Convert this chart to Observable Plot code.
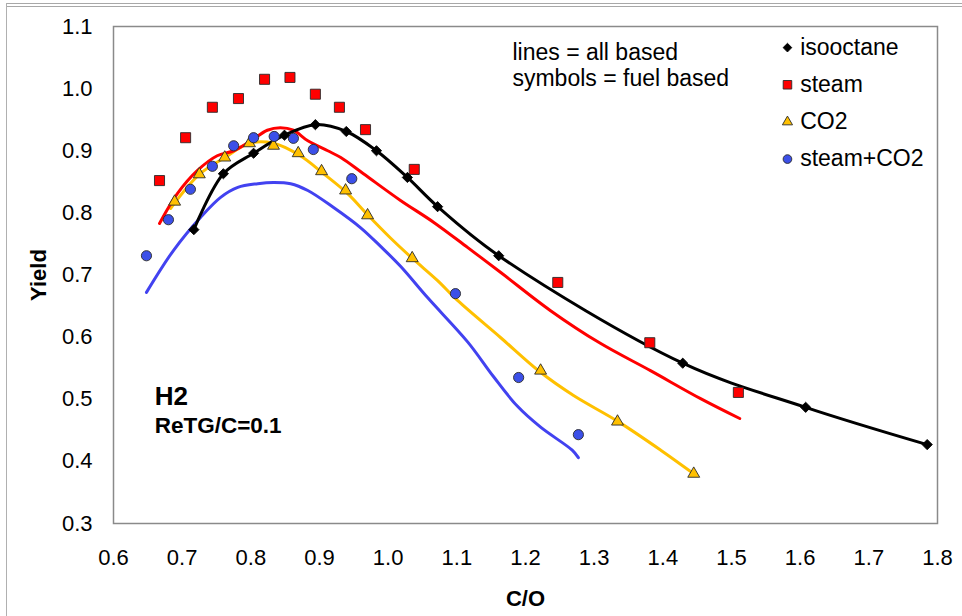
<!DOCTYPE html>
<html><head><meta charset="utf-8">
<script src="https://cdn.jsdelivr.net/npm/d3@7"></script>
<script src="https://cdn.jsdelivr.net/npm/@observablehq/plot@0.6"></script>
<style>
body{margin:0;background:#fff;}
#wrap{position:relative;width:962px;height:616px;overflow:hidden;background:#fff;}
#wrap .edge-top{position:absolute;left:6px;top:3px;right:0;height:2px;border-top:1px solid #a8a8a8;border-bottom:1px solid #a8a8a8;}
#wrap .edge-left{position:absolute;left:6px;top:3px;bottom:0;border-left:1px solid #b0b0b0;}
#wrap svg{position:absolute;left:0;top:0;}
</style></head><body>
<div id="wrap"><div class="edge-top"></div><div class="edge-left"></div></div>
<script>
// ---- data ----
const seriesNames = ["isooctane", "steam", "CO2", "steam+CO2"];

// symbols (fuel based)
const isoX   = [0.717, 0.760, 0.804, 0.849, 0.894, 0.939, 0.983, 1.028, 1.072, 1.161, 1.429, 1.608, 1.785];
const isoY   = [0.773, 0.863, 0.896, 0.925, 0.942, 0.931, 0.900, 0.857, 0.810, 0.731, 0.558, 0.487, 0.427];
const steamX = [0.667, 0.705, 0.744, 0.782, 0.820, 0.857, 0.894, 0.929, 0.967, 1.038, 1.247, 1.381, 1.510];
const steamY = [0.852, 0.921, 0.970, 0.984, 1.015, 1.018, 0.991, 0.970, 0.934, 0.870, 0.688, 0.591, 0.511];
const co2X   = [0.689, 0.725, 0.762, 0.798, 0.833, 0.869, 0.903, 0.938, 0.970, 1.035, 1.222, 1.334, 1.445];
const co2Y   = [0.818, 0.862, 0.889, 0.912, 0.908, 0.896, 0.867, 0.836, 0.796, 0.727, 0.546, 0.464, 0.380];
const mixX   = [0.648, 0.680, 0.712, 0.744, 0.775, 0.804, 0.834, 0.862, 0.891, 0.947, 1.098, 1.190, 1.277];
const mixY   = [0.731, 0.789, 0.838, 0.875, 0.908, 0.921, 0.923, 0.920, 0.902, 0.855, 0.670, 0.535, 0.443];

// lines (all based)
const isoLineX   = isoX;
const isoLineY   = isoY;
const steamLineX = [0.667, 0.693, 0.722, 0.751, 0.775, 0.800, 0.824, 0.843, 0.862, 0.883, 0.912, 0.931, 0.964, 1.018, 1.066, 1.116, 1.164, 1.236, 1.309, 1.382, 1.455, 1.512];
const steamLineY = [0.783, 0.831, 0.868, 0.892, 0.900, 0.916, 0.933, 0.937, 0.933, 0.916, 0.900, 0.889, 0.863, 0.820, 0.785, 0.744, 0.704, 0.643, 0.590, 0.546, 0.501, 0.469];
const co2LineX   = [0.683, 0.725, 0.762, 0.798, 0.833, 0.872, 0.906, 0.941, 0.970, 1.003, 1.035, 1.072, 1.101, 1.164, 1.220, 1.270, 1.335, 1.397, 1.445];
const co2LineY   = [0.807, 0.862, 0.889, 0.912, 0.912, 0.892, 0.863, 0.831, 0.797, 0.760, 0.727, 0.691, 0.659, 0.599, 0.545, 0.506, 0.464, 0.418, 0.380];
const mixLineX   = [0.648, 0.687, 0.727, 0.756, 0.781, 0.810, 0.833, 0.858, 0.883, 0.920, 0.960, 0.989, 1.018, 1.057, 1.116, 1.153, 1.188, 1.222, 1.268, 1.277];
const mixLineY   = [0.672, 0.739, 0.793, 0.825, 0.841, 0.847, 0.849, 0.847, 0.836, 0.809, 0.776, 0.746, 0.714, 0.664, 0.592, 0.537, 0.489, 0.455, 0.418, 0.406];

const xTicks = [0.6, 0.7, 0.8, 0.9, 1.0, 1.1, 1.2, 1.3, 1.4, 1.5, 1.6, 1.7, 1.8];
const yTicks = [0.3, 0.4, 0.5, 0.6, 0.7, 0.8, 0.9, 1.0, 1.1];

const noteLines = ["lines = all based", "symbols = fuel based"];
const caseLabel = "H2";
const caseSub = "ReTG/C=0.1";

// ---- build tables ----
const rows = (xs, ys) => xs.map((x, i) => ({x, y: ys[i]}));
const style = {
  "isooctane": {symbol: "diamond2",  r: 4.6, fill: "#000000", stroke: "#000000", line: "#000000"},
  "steam":     {symbol: "square2",   r: 6.4, fill: "#ff0000", stroke: "#2a2a2a", line: "#ff0000"},
  "CO2":       {symbol: "triangle2", r: 5.7, fill: "#ffc000", stroke: "#2a2a2a", line: "#ffc000"},
  "steam+CO2": {symbol: "circle",    r: 5.1, fill: "#3c50e8", stroke: "#2a2a2a", line: "#4242f0"}
};
const points = {
  "isooctane": rows(isoX, isoY), "steam": rows(steamX, steamY),
  "CO2": rows(co2X, co2Y), "steam+CO2": rows(mixX, mixY)
};
const lines = {
  "isooctane": rows(isoLineX, isoLineY), "steam": rows(steamLineX, steamLineY),
  "CO2": rows(co2LineX, co2LineY), "steam+CO2": rows(mixLineX, mixLineY)
};

const lineMarks = ["CO2", "steam+CO2", "steam", "isooctane"].map(s =>
  Plot.line(lines[s], {x: "x", y: "y", stroke: style[s].line, strokeWidth: 3, curve: "catmull-rom"}));
const dotMarks = ["steam", "CO2", "steam+CO2", "isooctane"].map(s =>
  Plot.dot(points[s], {x: "x", y: "y", symbol: () => style[s].symbol, r: style[s].r,
    fill: style[s].fill, stroke: style[s].stroke, strokeWidth: 0.9}));

// legend (inside plot area, top right)
const legendRows = seriesNames.map((name, i) => ({name, lx: 1.5815, tx: 1.600, y: 1.066 - i * 0.0598}));
const legendDots = legendRows.map(d =>
  Plot.dot([d], {x: "lx", y: "y", symbol: () => style[d.name].symbol, r: style[d.name].r * 0.85,
    fill: style[d.name].fill, stroke: style[d.name].stroke, strokeWidth: 0.9}));

const noteRows = noteLines.map((t, i) => ({t, x: 1.181, y: 1.058 - i * 0.042}));

const chart = Plot.plot({
  width: 962, height: 616,
  marginLeft: 113, marginRight: 25, marginTop: 26, marginBottom: 93,
  style: {fontFamily: "'Liberation Sans', Arial, sans-serif", fontSize: "22px", color: "#000", background: "transparent"},
  x: {domain: [0.6, 1.8]},
  y: {domain: [0.3, 1.1]},
  symbol: {type: "identity"},
  marks: [
    Plot.frame({stroke: "#8a8a8a", strokeWidth: 1.5}),
    Plot.axisX({ticks: xTicks, tickFormat: d3.format(".1f"), tickSize: 0, tickPadding: 26,
      label: "C/O", labelAnchor: "center", labelArrow: "none", labelOffset: 82, fontSize: 22}),
    Plot.axisY({ticks: yTicks, tickFormat: d3.format(".1f"), tickSize: 0, tickPadding: 21,
      label: "Yield", labelAnchor: "center", labelArrow: "none", labelOffset: 83, fontSize: 22}),
    ...lineMarks,
    ...dotMarks,
    ...legendDots,
    Plot.text(legendRows, {x: "tx", y: "y", text: "name", textAnchor: "start", fontSize: 23}),
    Plot.text(noteRows, {x: "x", y: "y", text: "t", textAnchor: "start", fontSize: 23}),
    Plot.text([caseLabel], {x: () => 0.66, y: () => 0.5044, text: d => d, textAnchor: "start", fontSize: 26, fontWeight: "bold"}),
    Plot.text([caseSub], {x: () => 0.66, y: () => 0.458, text: d => d, textAnchor: "start", fontSize: 22.5, fontWeight: "bold"})
  ]
});
document.getElementById("wrap").appendChild(chart);
d3.select(chart).selectAll('g[aria-label="x-axis label"] text, g[aria-label="y-axis label"] text').attr("font-weight", "bold");
</script>
</body></html>
